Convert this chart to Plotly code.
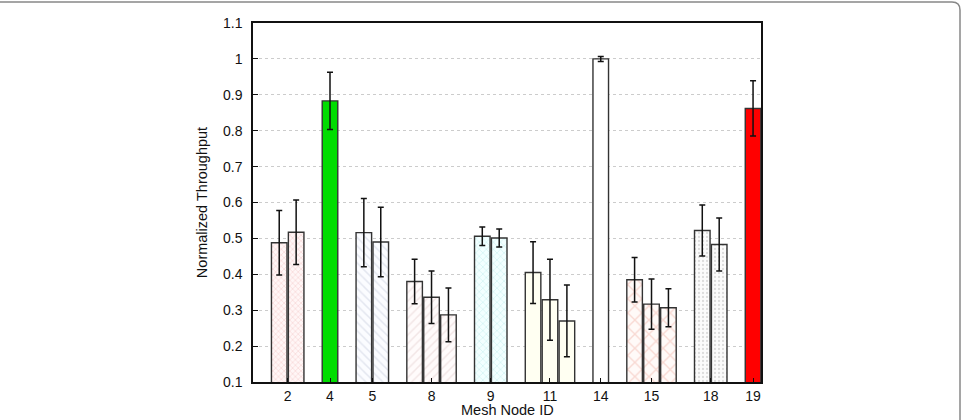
import plotly.graph_objects as go

# ---- data ----
nodes = ["2", "4", "5", "8", "9", "11", "14", "15", "18", "19"]
values = [
    [0.488, 0.517],
    [0.883],
    [0.516, 0.490],
    [0.380, 0.336, 0.287],
    [0.506, 0.501],
    [0.405, 0.329, 0.270],
    [1.000],
    [0.385, 0.317, 0.307],
    [0.522, 0.483],
    [0.862],
]
errors = [
    [0.090, 0.090],
    [0.080],
    [0.095, 0.097],
    [0.062, 0.073, 0.075],
    [0.026, 0.025],
    [0.086, 0.113, 0.100],
    [0.007],
    [0.062, 0.070, 0.053],
    [0.071, 0.074],
    [0.077],
]
y_ticks = [0.1, 0.2, 0.3, 0.4, 0.5, 0.6, 0.7, 0.8, 0.9, 1.0, 1.1]
y_tick_labels = ["0.1", "0.2", "0.3", "0.4", "0.5", "0.6", "0.7", "0.8", "0.9", "1", "1.1"]
x_title = "Mesh Node ID"
y_title = "Normalized Throughput"

# ---- styles per group ----
styles = [
    dict(bg="#fff6f6", fg="#eaa2a2", shape="x", size=4),
    dict(bg="#00dd00", fg=None, shape="", size=6),
    dict(bg="#fbfcff", fg="#ccd0e0", shape="\\", size=6),
    dict(bg="#fffbfb", fg="#e6d2d2", shape="/", size=6),
    dict(bg="#f2ffff", fg="#aee4e4", shape="x", size=5),
    dict(bg="#fffff2", fg=None, shape="", size=6),
    dict(bg="#ffffff", fg=None, shape="", size=6),
    dict(bg="#fffaf8", fg="#f2b8ac", shape="x", size=10),
    dict(bg="#fbfbfb", fg="#bcbcbc", shape=".", size=4),
    dict(bg="#ff0000", fg=None, shape="", size=6),
]

fig = go.Figure()
tick_pos = []
slot = 0
for name, vals, errs, st in zip(nodes, values, errors, styles):
    xs = [slot + i for i in range(len(vals))]
    tick_pos.append(sum(xs) / len(xs))
    slot += len(vals) + 1
    marker = dict(color=st["bg"], line=dict(color="#333333", width=1.4))
    if st["fg"]:
        marker["pattern"] = dict(shape=st["shape"], fgcolor=st["fg"], bgcolor=st["bg"],
                                 size=st["size"], solidity=0.25, fillmode="overlay")
    fig.add_trace(go.Bar(
        x=xs, y=vals, width=0.92, name=name, marker=marker,
        error_y=dict(type="data", array=errs, visible=True, color="#111111",
                     thickness=1.5, width=3),
        showlegend=False,
    ))

W, H = 962, 420
ml, mr, mt, mb = 253, 201, 23, 38
pw, ph = W - ml - mr, H - mt - mb

def px(x):
    return (x - ml) / pw

def py(y):
    return (H - mb - y) / ph

# outer rounded frame
r = 8
path = (f"M {px(-2)},{py(2)} L {px(960 - r)},{py(2)} "
        f"Q {px(960)},{py(2)} {px(960)},{py(2 + r)} L {px(960)},{py(425)}")
fig.add_shape(type="path", path=path, xref="paper", yref="paper",
              line=dict(color="#888888", width=1.5), layer="above")

# x-axis title as annotation, kept fully inside the picture
fig.add_annotation(text=x_title, xref="paper", yref="paper", x=0.5, y=py(410.5),
                   xanchor="center", yanchor="middle", showarrow=False,
                   font=dict(size=14.5))

fig.update_layout(
    width=W, height=H,
    margin=dict(l=ml, r=mr, t=mt, b=mb),
    plot_bgcolor="white", paper_bgcolor="white",
    font=dict(family="Liberation Sans, Arial, sans-serif", size=14, color="#111111"),
    barmode="overlay",
    xaxis=dict(
        range=[-1.55, 28.47], tickvals=tick_pos, ticktext=nodes,
        showgrid=False, zeroline=False,
        showline=True, linecolor="#111111", linewidth=1.5, mirror=True,
        ticks="inside", ticklen=4, tickcolor="#111111",
        ticklabelstandoff=0, automargin=False,
    ),
    yaxis=dict(
        range=[0.1, 1.1], tickvals=y_ticks, ticktext=y_tick_labels,
        showgrid=True, gridcolor="#cccccc", griddash="dot", gridwidth=1,
        zeroline=False,
        showline=True, linecolor="#111111", linewidth=1.5, mirror=True,
        ticks="inside", ticklen=5, tickcolor="#111111",
        ticklabelstandoff=6, automargin=False,
        title=dict(text=y_title, standoff=12, font=dict(size=14.5)),
    ),
)

fig.write_html("out.html")
